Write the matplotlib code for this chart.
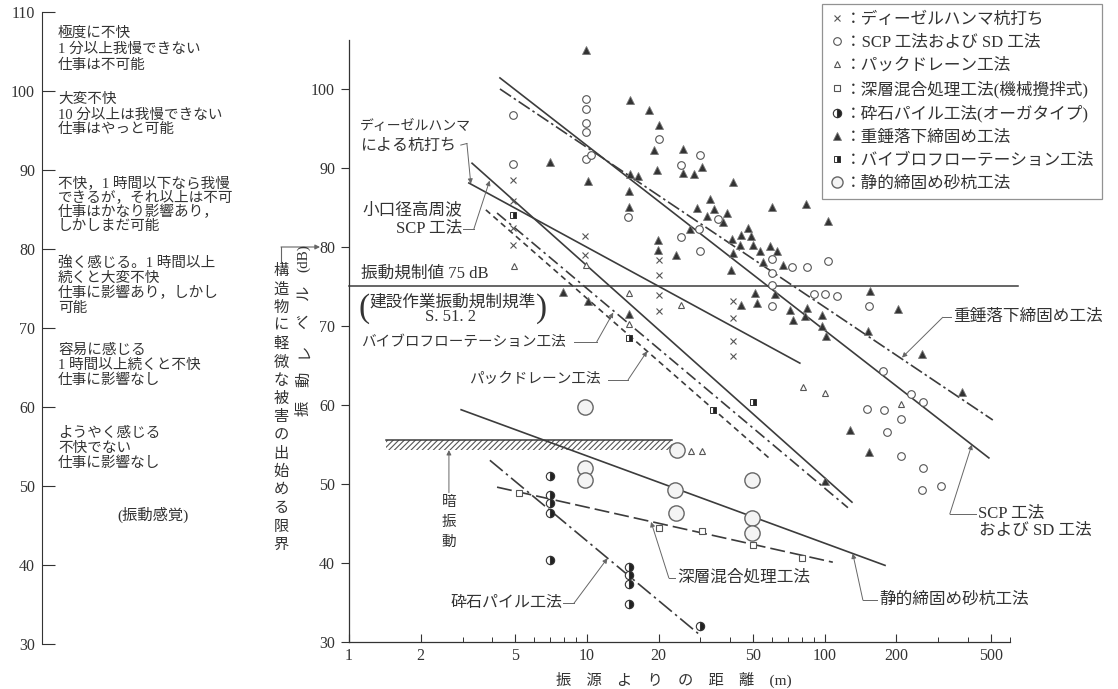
import matplotlib
matplotlib.use("Agg")
import matplotlib.pyplot as plt
from matplotlib.lines import Line2D

plt.rcParams["font.family"] = ["Liberation Serif", "Noto Sans CJK JP"]
plt.rcParams["hatch.linewidth"] = 0.8

INK = "#333333"
LINE = "#3c3c3c"
LEAD = "#666666"
MARK = "#555555"

# --- measured points (distance m, vibration level dB) ---
DIESEL_X = [4.9, 4.9, 4.9, 4.9, 9.8, 9.8, 20, 20, 20, 20, 41, 41, 41, 41]
DIESEL_Y = [88.5, 85.8, 82.4, 80.3, 81.4, 79.0, 78.4, 76.5, 73.9, 71.9, 73.2, 71.0, 68.1, 66.2]

SCP_X = [4.9, 4.9, 9.9, 9.9, 9.9, 9.9, 9.9, 10.4, 14.9, 20, 24.8, 24.8, 29.5, 30, 30,
         35.5, 60, 60, 60, 60, 73, 84, 103, 90, 100, 113, 153, 175, 230, 258, 150,
         178, 209, 182, 209, 258, 256, 307]
SCP_Y = [96.7, 90.5, 98.7, 97.5, 95.7, 94.6, 91.2, 91.7, 83.8, 93.7, 90.4, 81.3, 82.3,
         91.6, 79.5, 83.5, 78.5, 76.7, 75.2, 72.5, 77.5, 77.5, 78.2, 74.1, 74.1, 73.8,
         72.5, 64.3, 61.4, 60.4, 59.5, 59.4, 58.2, 56.6, 53.5, 52.0, 49.2, 49.7]

PD_X = [4.95, 9.9, 15, 15, 24.8, 81, 99.7, 209, 27.5, 30.5]
PD_Y = [77.6, 77.7, 74.2, 70.3, 72.7, 62.3, 61.5, 60.1, 54.2, 54.2]

DM_X = [5.2, 20, 30.5, 50, 80]
DM_Y = [48.9, 44.4, 44.0, 42.3, 40.6]

GP_X = [7, 7, 7, 7, 7, 15, 15, 15, 15, 30]
GP_Y = [51.0, 48.6, 47.6, 46.3, 40.4, 39.5, 38.5, 37.3, 34.8, 32.0]

HT_X = [9.9, 15.1, 18.2, 20.1, 19.1, 19.7, 10.1, 15.1, 16.4, 15.0, 15.0, 25.3, 30.6,
        25.3, 28.1, 41, 32.9, 29.0, 34.1, 38.7, 31.9, 37.2, 27.0, 47.4, 44.6, 48.8,
        40.6, 43.9, 49.8, 53.3, 58.6, 63.1, 41, 55.2, 66.6, 19.8, 19.8, 23.6, 40.2,
        59.7, 83.0, 50.9, 51.9, 44.6, 61.6, 71.4, 84.2, 73.4, 82.2, 7.9, 10.1, 103,
        155, 203, 97.4, 97.4, 101, 152, 256, 376, 128, 153, 100, 7.0, 15]
HT_Y = [104.9, 98.6, 97.3, 95.4, 92.3, 89.7, 88.4, 89.2, 89.0, 87.1, 85.1, 92.4, 90.1,
        89.4, 89.2, 88.2, 86.1, 84.9, 84.8, 84.3, 83.9, 83.2, 82.3, 82.4, 81.5, 81.4,
        81.0, 80.3, 80.3, 79.5, 80.1, 79.5, 79.2, 78.1, 77.7, 80.9, 79.6, 79.0, 77.1,
        85.1, 85.4, 74.2, 72.9, 72.7, 74.1, 72.0, 72.3, 70.8, 71.3, 74.3, 73.2, 83.3,
        74.4, 72.2, 71.4, 70.0, 68.7, 69.4, 66.5, 61.6, 56.8, 54.1, 50.4, 90.8, 71.5]

VF_X = [4.9, 15, 33.8, 49.9]
VF_Y = [84.0, 68.5, 59.4, 60.4]

SS_X = [9.8, 9.8, 9.8, 23.9, 23.5, 23.7, 49.3, 49.3, 49.3]
SS_Y = [59.7, 52.0, 50.5, 54.3, 49.2, 46.3, 50.5, 45.7, 43.8]

# --- fitted lines (start, end) ---
SCP_LINE_X, SCP_LINE_Y = [4.31, 489], [101.4, 53.3]
HT_LINE_X, HT_LINE_Y = [4.31, 508], [100.0, 58.1]
DIESEL_LINE_X, DIESEL_LINE_Y = [3.19, 78.5], [88.1, 65.3]
SMALL_SCP_LINE_X, SMALL_SCP_LINE_Y = [3.29, 130], [90.6, 47.7]
PD_LINE_X, PD_LINE_Y = [3.76, 58.2], [84.7, 53.3]
VF_LINE_X, VF_LINE_Y = [4.19, 125], [84.3, 47.0]
SS_LINE_X, SS_LINE_Y = [2.96, 179], [59.4, 39.7]
DM_LINE_X, DM_LINE_Y = [4.19, 108], [49.6, 40.1]
GP_LINE_X, GP_LINE_Y = [3.91, 30.1], [53.0, 30.8]

LIMIT_DB = 75
DAMAGE_X, DAMAGE_TOP, DAMAGE_LOW = [1.43, 22.8], 55.6, 54.3

X_MAJOR = [1, 2, 5, 10, 20, 50, 100, 200, 500]
X_MINOR = [3, 4, 6, 7, 8, 9, 30, 40, 60, 70, 80, 90, 300, 400, 600]
Y_TICKS = [30, 40, 50, 60, 70, 80, 90, 100]
FEEL_TICKS = [30, 40, 50, 60, 70, 80, 90, 100, 110]

FEEL_TEXT = [
    (107.3, "極度に不快"), (105.3, "1 分以上我慢できない"), (103.3, "仕事は不可能"),
    (98.9, "大変不快"), (97.0, "10 分以上は我慢できない"), (95.1, "仕事はやっと可能"),
    (88.4, "不快，1 時間以下なら我慢"), (86.6, "できるが，それ以上は不可"),
    (84.7, "仕事はかなり影響あり，"), (82.8, "しかしまだ可能"),
    (78.2, "強く感じる。1 時間以上"), (76.3, "続くと大変不快"),
    (74.4, "仕事に影響あり，しかし"), (72.5, "可能"),
    (67.2, "容易に感じる"), (65.3, "1 時間以上続くと不快"), (63.4, "仕事に影響なし"),
    (56.7, "ようやく感じる"), (54.8, "不快でない"), (52.9, "仕事に影響なし"),
]

FS = 10.5       # katakana-heavy labels
FS_K = 12       # kanji labels
FS_FEEL = 10.5  # feeling scale notes


def leader(ax, pts, tip):
    ax.plot([p[0] for p in pts], [p[1] for p in pts], color=LEAD, lw=0.7, zorder=4)
    ax.annotate("", xy=tip, xytext=pts[-1],
                arrowprops=dict(arrowstyle="-|>", color=LEAD, lw=0.7,
                                mutation_scale=7, shrinkA=0, shrinkB=0), zorder=4)


fig = plt.figure(figsize=(11.18, 6.89), dpi=100)

# vibration feeling scale (left)
feel = fig.add_axes([42 / 1118, 1 - 644 / 689, 258 / 1118, 632 / 689])
feel.set_xlim(0, 1)
feel.set_ylim(30, 110)
feel.patch.set_visible(False)
for s in ("top", "right", "bottom"):
    feel.spines[s].set_visible(False)
feel.spines["left"].set_color(INK)
feel.set_xticks([])
feel.set_yticks(FEEL_TICKS)
feel.tick_params(axis="y", direction="in", length=9, width=0.8, colors=INK,
                 labelsize=11.5, pad=5)
for y, s in FEEL_TEXT:
    feel.text(0.062, y, s, fontsize=FS_FEEL, color=INK, va="center", ha="left")
feel.text(0.43, 46.3, "(振動感覚)", fontsize=11, color=INK, va="center", ha="center")

# main chart
ax = fig.add_axes([349 / 1118, 1 - 642 / 689, 661 / 1118, 602 / 689])
ax.set_xscale("log")
ax.set_xlim(1, 600)
ax.set_ylim(30, 106.2)
ax.patch.set_visible(False)
ax.spines["top"].set_visible(False)
ax.spines["right"].set_visible(False)
for s in ("left", "bottom"):
    ax.spines[s].set_color(INK)
    ax.spines[s].set_linewidth(0.9)
ax.set_xticks(X_MAJOR)
ax.set_xticklabels([str(v) for v in X_MAJOR])
ax.set_xticks(X_MINOR, minor=True)
ax.set_xticklabels([], minor=True)
ax.set_yticks(Y_TICKS)
ax.tick_params(axis="x", which="major", direction="in", length=6, width=0.8,
               colors=INK, labelsize=11.5, pad=4)
ax.tick_params(axis="x", which="minor", direction="in", length=3.5, width=0.7, colors=INK)
ax.tick_params(axis="y", direction="out", length=6, width=0.8, colors=INK,
               labelsize=11.5, pad=4)

ax.axhline(LIMIT_DB, color=LINE, lw=1.1, zorder=2, xmax=1.012, clip_on=False)
ax.plot(DAMAGE_X, [DAMAGE_TOP, DAMAGE_TOP], color=LINE, lw=1.1)
ax.fill_between(DAMAGE_X, DAMAGE_LOW, DAMAGE_TOP, facecolor="none",
                edgecolor="#555555", hatch="//////", linewidth=0)

solid = dict(color=LINE, lw=1.2, zorder=3)
ax.plot(SCP_LINE_X, SCP_LINE_Y, **solid)
ax.plot(DIESEL_LINE_X, DIESEL_LINE_Y, **solid)
ax.plot(SMALL_SCP_LINE_X, SMALL_SCP_LINE_Y, **solid)
ax.plot(SS_LINE_X, SS_LINE_Y, **solid)
ax.plot(HT_LINE_X, HT_LINE_Y, color=LINE, lw=1.2, dashes=(8, 2, 1.5, 2), zorder=3)
ax.plot(PD_LINE_X, PD_LINE_Y, color=LINE, lw=1.2, dashes=(3.5, 2.5), zorder=3)
ax.plot(VF_LINE_X, VF_LINE_Y, color=LINE, lw=1.2, dashes=(7, 2.5, 1.5, 2.5), zorder=3)
ax.plot(DM_LINE_X, DM_LINE_Y, color=LINE, lw=1.2, dashes=(9, 3), zorder=3)
ax.plot(GP_LINE_X, GP_LINE_Y, color=LINE, lw=1.2, dashes=(10, 2.5, 1.5, 2.5), zorder=3)

styles = {
    "diesel": dict(marker="x", ms=5, mec=MARK, mew=0.8, ls="none"),
    "scp": dict(marker="o", ms=5.5, mfc="white", mec=MARK, mew=0.8, ls="none"),
    "pd": dict(marker="^", ms=5, mfc="white", mec=MARK, mew=0.8, ls="none"),
    "dm": dict(marker="s", ms=4, mfc="white", mec=MARK, mew=0.8, ls="none"),
    "gp": dict(marker="o", ms=6, fillstyle="right", mfc="#222222", mfcalt="white",
               mec="#333333", mew=0.8, ls="none"),
    "ht": dict(marker="^", ms=6, mfc="#333333", mec="#777777", mew=0.6, ls="none"),
    "vf": dict(marker="s", ms=5, fillstyle="right", mfc="#222222", mfcalt="white",
               mec="#333333", mew=0.7, ls="none"),
    "ss": dict(marker="o", ms=11, mfc="#f4f4f4", mec="#666666", mew=1.0, ls="none"),
}
ax.plot(DIESEL_X, DIESEL_Y, zorder=5, **styles["diesel"])
ax.plot(SCP_X, SCP_Y, zorder=5, **styles["scp"])
ax.plot(PD_X, PD_Y, zorder=5, **styles["pd"])
ax.plot(DM_X, DM_Y, zorder=5, **styles["dm"])
ax.plot(GP_X, GP_Y, zorder=5, **styles["gp"])
ax.plot(HT_X, HT_Y, zorder=5, **styles["ht"])
ax.plot(VF_X, VF_Y, zorder=5, **styles["vf"])
ax.plot(SS_X, SS_Y, zorder=4, **styles["ss"])

# annotations
t = dict(fontsize=FS, color=INK, va="center")
k = dict(fontsize=FS_K, color=INK, va="center")
ax.text(1.11, 95.2, "ディーゼルハンマ", ha="left", fontsize=10, color=INK, va="center")
ax.text(1.11, 92.8, "による杭打ち", ha="left", fontsize=11.5, color=INK, va="center")
leader(ax, [(2.95, 92.9), (3.13, 93.1)], (3.25, 88.0))
ax.text(2.98, 84.6, "小口径高周波", ha="right", **k)
ax.text(2.98, 82.3, "SCP 工法", ha="right", **k)
leader(ax, [(3.02, 82.3), (3.35, 82.3)], (3.9, 88.4))
ax.text(1.12, 76.6, "振動規制値 75 dB", ha="left", **k)
ax.text(2.73, 73.0, "建設作業振動規制規準", ha="center", **k)
ax.text(2.68, 71.2, "S. 51. 2", ha="center", **k)
ax.text(1.1, 72.2, "(", ha="left", va="center", fontsize=24, color=INK)
ax.text(6.8, 72.2, ")", ha="right", va="center", fontsize=24, color=INK)
ax.text(1.12, 68.0, "バイブロフローテーション工法", ha="left", **t)
leader(ax, [(8.8, 68.0), (11.0, 68.0)], (12.9, 71.7))
ax.text(3.19, 63.2, "パックドレーン工法", ha="left", **t)
leader(ax, [(12.3, 63.2), (14.9, 63.2)], (17.9, 66.8))
ax.text(345, 71.1, "重錘落下締固め工法", ha="left", **k)
leader(ax, [(340, 71.1), (313, 71.1)], (211, 66.0))
ax.text(439, 46.2, "SCP 工法", ha="left", **k)
ax.text(446, 44.0, "および SD 工法", ha="left", **k)
leader(ax, [(432, 46.2), (335, 46.2)], (415, 55.0))
ax.text(170, 35.3, "静的締固め砂杭工法", ha="left", **k)
leader(ax, [(166, 35.3), (144.5, 35.3)], (131, 41.2))
ax.text(23.9, 38.1, "深層混合処理工法", ha="left", **k)
leader(ax, [(23.4, 38.1), (22.1, 38.1)], (18.6, 45.2))
ax.text(2.68, 34.9, "砕石パイル工法", ha="left", fontsize=11.5, color=INK, va="center")
leader(ax, [(7.94, 34.9), (8.82, 34.9)], (12.2, 40.6))
for y, ch in zip([47.6, 45.1, 42.6], "暗振動"):
    ax.text(2.63, y, ch, ha="center", **t)
ax.annotate("", xy=(2.63, 54.3), xytext=(2.63, 48.9),
            arrowprops=dict(arrowstyle="-|>", color=LEAD, lw=0.7, mutation_scale=7,
                            shrinkA=0, shrinkB=0))

# overlay in pixel units for the outer labels
ov = fig.add_axes([0, 0, 1, 1])
ov.set_xlim(0, 1118)
ov.set_ylim(689, 0)
ov.axis("off")
ov.patch.set_visible(False)
for i, ch in enumerate("構造物に軽微な被害の出始める限界"):
    ov.text(281, 271 + i * 18.3, ch, fontsize=11, color=INK, ha="center", va="center")
ov.plot([281, 281], [262, 247], color=LEAD, lw=0.8)
ov.annotate("", xy=(320, 247), xytext=(281, 247),
            arrowprops=dict(arrowstyle="-|>", color=LEAD, lw=0.8, mutation_scale=7,
                            shrinkA=0, shrinkB=0))
ov.text(304, 258, "(dB)", fontsize=11, color=INK, rotation=90, ha="center", va="center")
for i, ch in enumerate("ルベレ動振"):
    ov.text(304, 292 + i * 29, ch, fontsize=11, color=INK, rotation=90,
            ha="center", va="center")
ov.text(674, 680, "振　源　よ　り　の　距　離　(m)", fontsize=11, color=INK,
        ha="center", va="center")

# legend
handles = [
    Line2D([], [], **styles["diesel"]),
    Line2D([], [], **styles["scp"]),
    Line2D([], [], **styles["pd"]),
    Line2D([], [], **styles["dm"]),
    Line2D([], [], **styles["gp"]),
    Line2D([], [], **styles["ht"]),
    Line2D([], [], **styles["vf"]),
    Line2D([], [], **dict(styles["ss"], ms=8)),
]
labels = [
    "：ディーゼルハンマ杭打ち",
    "：SCP 工法および SD 工法",
    "：パックドレーン工法",
    "：深層混合処理工法(機械攪拌式)",
    "：砕石パイル工法(オーガタイプ)",
    "：重錘落下締固め工法",
    "：バイブロフローテーション工法",
    "：静的締固め砂杭工法",
]
leg = fig.legend(handles, labels, loc="upper left",
                 bbox_to_anchor=(822 / 1118, 1 - 4 / 689), frameon=True, fancybox=False,
                 fontsize=12, handlelength=0.9, handletextpad=0.05, labelspacing=0.42,
                 borderpad=0.45, borderaxespad=0)
leg.get_frame().set_edgecolor("#777777")
leg.get_frame().set_linewidth(0.9)
for txt in leg.get_texts():
    txt.set_color(INK)

fig.savefig("out.png", dpi=100, facecolor="white")
